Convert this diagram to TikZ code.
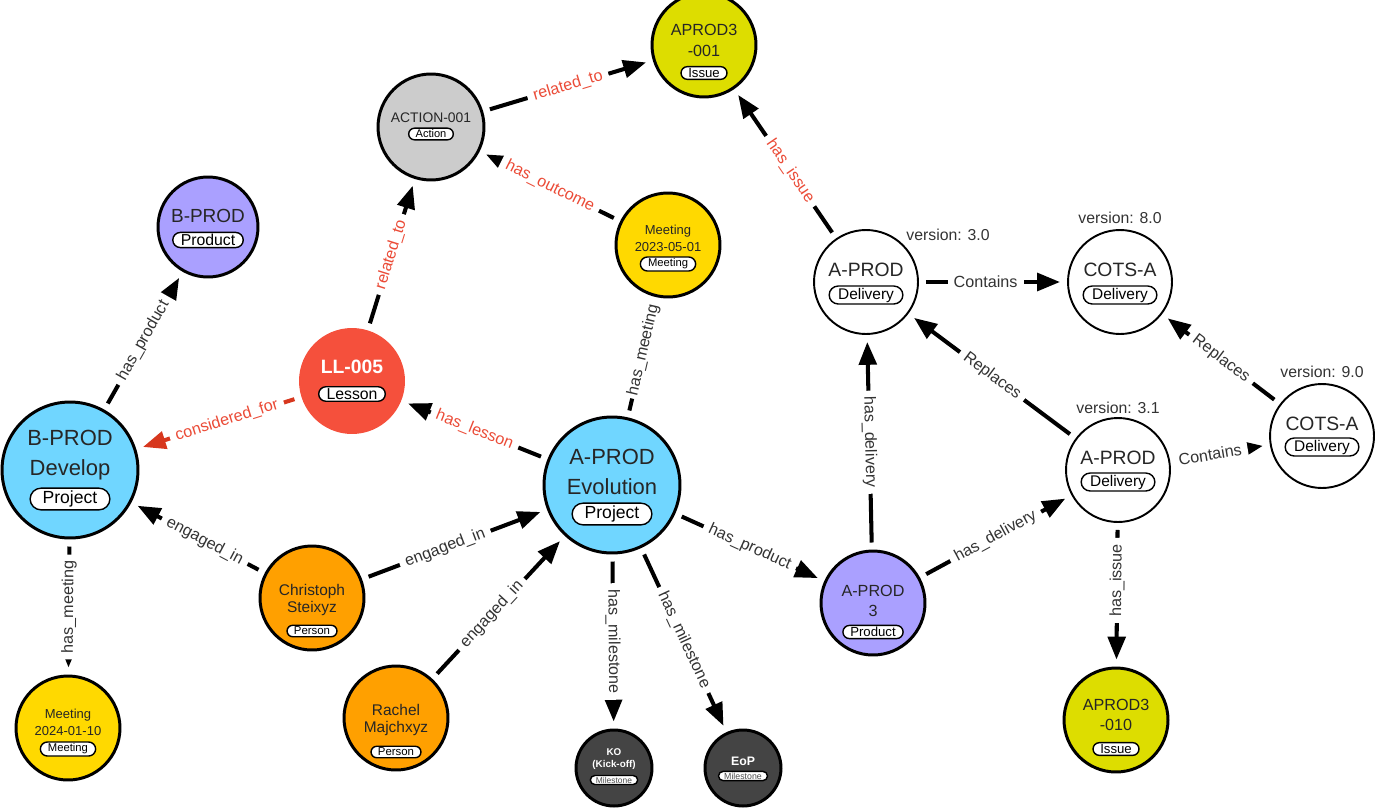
\documentclass[tikz,border=0pt]{standalone}
\usepackage{fontspec}
\setmainfont{Liberation Sans}
\usetikzlibrary{arrows.meta,shapes.misc}

\definecolor{projblue}{RGB}{112,214,255}
\definecolor{prodpurple}{RGB}{170,160,255}
\definecolor{mtgyellow}{RGB}{255,217,0}
\definecolor{issueyellow}{RGB}{221,221,0}
\definecolor{actgray}{RGB}{204,204,204}
\definecolor{lessonred}{RGB}{245,80,60}
\definecolor{personorange}{RGB}{255,160,0}
\definecolor{msgray}{RGB}{68,68,68}
\definecolor{edgered}{RGB}{215,55,30}
\definecolor{lblred}{RGB}{235,75,55}

\newcommand{\fsz}[2]{\fontsize{#1}{#2}\selectfont}

\tikzset{
  ent/.style={circle, draw=black, line width=1.7pt, inner sep=0pt, minimum size=2.08cm},
  dlv/.style={circle, draw=black, line width=1.1pt, fill=white, inner sep=0pt, minimum size=2.08cm},
  ttl/.style={align=center, inner sep=0pt, text=black!85},
  tag/.style={rounded rectangle, draw=black, line width=0.8pt, fill=white, inner ysep=1pt, inner xsep=3pt},
  rel/.style={line width=2.3pt, draw=black, -{Triangle[length=13pt,width=10pt]}, shorten <=4pt, shorten >=4pt},
  lbl/.style={sloped, fill=white, inner xsep=3.5pt, inner ysep=2pt, font=\fsz{9.2}{10}, text=black!80},
  redlbl/.style={lbl, text=lblred},
  ver/.style={font=\fsz{9}{10}, text=black!80}
}

\begin{document}
\begin{tikzpicture}[x=0.02cm, y=-0.02cm]
  \useasboundingbox (0,0) rectangle (1375,808);

  % entities
  \node[ent, fill=issueyellow] (i001) at (704,45) {};
  \node[ttl, font=\fsz{9.2}{12}] (i001T) at (704,40) {APROD3\\-001};
  \node[tag, font=\fsz{7.5}{8}] (i001K) at (704,73) {Issue};

  \node[ent, fill=actgray, minimum size=2.12cm] (act) at (431,127) {};
  \node[ttl, font=\fsz{7.9}{9}] (actT) at (431,118) {ACTION-001};
  \node[tag, font=\fsz{6.3}{7}] (actK) at (431,134) {Action};

  \node[ent, fill=prodpurple, minimum size=2.0cm] (bprod) at (208,227) {};
  \node[ttl, font=\fsz{10.8}{12}] (bprodT) at (208,216) {B-PROD};
  \node[tag, font=\fsz{9}{10}] (bprodK) at (208,240) {Product};

  \node[ent, fill=mtgyellow] (mtg1) at (668,245) {};
  \node[ttl, font=\fsz{7.4}{9.6}] (mtg1T) at (668,238) {Meeting\\2023-05-01};
  \node[tag, font=\fsz{6.4}{7}] (mtg1K) at (668,264) {Meeting};

  \node[dlv] (d30) at (866,282) {};
  \node[ttl, font=\fsz{11}{12}] (d30T) at (866,270) {A-PROD};
  \node[tag, font=\fsz{8.8}{10}] (d30K) at (866,295) {Delivery};
  \node[ver] (d30V) at (948,235) {version: 3.0};

  \node[dlv] (c80) at (1120,282) {};
  \node[ttl, font=\fsz{11}{12}] (c80T) at (1120,270) {COTS-A};
  \node[tag, font=\fsz{8.8}{10}] (c80K) at (1120,295) {Delivery};
  \node[ver] (c80V) at (1120,218) {version: 8.0};

  \node[circle, fill=lessonred, inner sep=0pt, minimum size=2.12cm] (ll) at (352,381) {};
  \node[ttl, text=white, font=\bfseries\fsz{11}{12}] (llT) at (352,367) {LL-005};
  \node[tag, font=\fsz{9}{10}] (llK) at (352,394) {Lesson};

  \node[ent, fill=projblue, minimum size=2.72cm] (bdev) at (70,470) {};
  \node[ttl, font=\fsz{12.5}{17}] (bdevT) at (70,455) {B-PROD\\Develop};
  \node[tag, font=\fsz{10}{11}, inner xsep=5pt, inner ysep=1.5pt] (bdevK) at (70,499) {Project};

  \node[ent, fill=projblue, minimum size=2.72cm] (aevo) at (612,485) {};
  \node[ttl, font=\fsz{12.5}{17}] (aevoT) at (612,472) {A-PROD\\Evolution};
  \node[tag, font=\fsz{10}{11}, inner xsep=5pt, inner ysep=1.5pt] (aevoK) at (612,514) {Project};

  \node[dlv] (d31) at (1118,470) {};
  \node[ttl, font=\fsz{11}{12}] (d31T) at (1118,458) {A-PROD};
  \node[tag, font=\fsz{8.8}{10}] (d31K) at (1118,482) {Delivery};
  \node[ver] (d31V) at (1118,408) {version: 3.1};

  \node[dlv] (c90) at (1322,436) {};
  \node[ttl, font=\fsz{11}{12}] (c90T) at (1322,424) {COTS-A};
  \node[tag, font=\fsz{8.8}{10}] (c90K) at (1322,447) {Delivery};
  \node[ver] (c90V) at (1322,372) {version: 9.0};

  \node[ent, fill=personorange] (chr) at (312,598) {};
  \node[ttl, font=\fsz{8.8}{10}] (chrT) at (312,600) {Christoph\\Steixyz};
  \node[tag, font=\fsz{6.5}{7}] (chrK) at (312,631) {Person};

  \node[ent, fill=prodpurple] (ap3) at (873,603) {};
  \node[ttl, font=\fsz{9.2}{11}] (ap3T) at (873,601) {A-PROD\\3};
  \node[tag, font=\fsz{7.5}{8}] (ap3K) at (873,632) {Product};

  \node[ent, fill=mtgyellow] (mtg2) at (68,728) {};
  \node[ttl, font=\fsz{7.4}{9.6}] (mtg2T) at (68,722) {Meeting\\2024-01-10};
  \node[tag, font=\fsz{6.4}{7}] (mtg2K) at (68,749) {Meeting};

  \node[ent, fill=personorange] (rach) at (396,718) {};
  \node[ttl, font=\fsz{8.8}{10}] (rachT) at (396,720) {Rachel\\Majchxyz};
  \node[tag, font=\fsz{6.5}{7}] (rachK) at (396,752) {Person};

  \node[ent, fill=msgray, minimum size=1.52cm] (ko) at (614,768) {};
  \node[ttl, text=white, font=\bfseries\fsz{5.6}{7}] (koT) at (614,759) {KO\\(Kick-off)};
  \node[tag, font=\fsz{4.8}{5}, text=black!70, inner xsep=2.5pt, inner ysep=0.8pt] (koK) at (614,780) {Milestone};

  \node[ent, fill=msgray, minimum size=1.52cm] (eop) at (743,768) {};
  \node[ttl, text=white, font=\bfseries\fsz{7}{8}] (eopT) at (743,761) {EoP};
  \node[tag, font=\fsz{5}{5}, text=black!70, inner xsep=2.5pt, inner ysep=0.8pt] (eopK) at (743,776) {Milestone};

  \node[ent, fill=issueyellow] (i010) at (1116,720) {};
  \node[ttl, font=\fsz{9.2}{11.5}] (i010T) at (1116,715) {APROD3\\-010};
  \node[tag, font=\fsz{7.5}{8}] (i010K) at (1116,749) {Issue};

  % relations
  \draw[rel, draw=edgered] (ll) -- node[redlbl, pos=0.45] {considered\_for} (bdev);
  \draw[rel] (ll) -- node[redlbl] {related\_to} (act);
  \draw[rel] (act) -- node[redlbl] {related\_to} (i001);
  \draw[rel] (mtg1) -- node[redlbl] {has\_outcome} (act);
  \draw[rel] (d30) -- node[redlbl, pos=0.45] {has\_issue} (i001);
  \draw[rel] (aevo) -- node[redlbl] {has\_lesson} (ll);
  \draw[rel] (aevo) -- node[lbl, pos=0.56, inner xsep=2pt] {has\_meeting} (mtg1);
  \draw[rel] (bdev) -- node[lbl] {has\_product} (bprod);
  \draw[rel] (bdev) -- node[lbl] {has\_meeting} (mtg2);
  \draw[rel] (chr) -- node[lbl, pos=0.45] {engaged\_in} (bdev);
  \draw[rel] (chr) -- node[lbl, pos=0.45] {engaged\_in} (aevo);
  \draw[rel] (rach) -- node[lbl, pos=0.45] {engaged\_in} (aevo);
  \draw[rel] (aevo) -- node[lbl] {has\_milestone} (ko);
  \draw[rel] (aevo) -- node[lbl] {has\_milestone} (eop);
  \draw[rel] (aevo) -- node[lbl] {has\_product} (ap3);
  \draw[rel] (ap3) -- node[lbl] {has\_delivery} (d30);
  \draw[rel] (ap3) -- node[lbl] {has\_delivery} (d31);
  \draw[rel] (d31) -- node[lbl] {Replaces} (d30);
  \draw[rel] (d30) -- node[lbl, pos=0.45] {Contains} (c80);
  \draw[rel] (d31) -- node[lbl, pos=0.4] {Contains} (c90);
  \draw[rel] (c90) -- node[lbl] {Replaces} (c80);
  \draw[rel] (d31) -- node[lbl, pos=0.4] {has\_issue} (i010);
\end{tikzpicture}
\end{document}
